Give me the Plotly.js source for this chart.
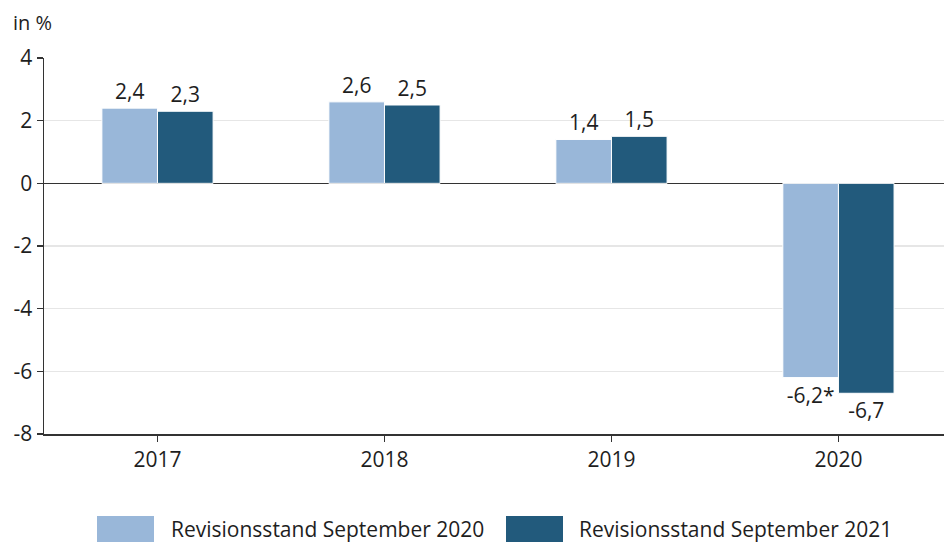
<!DOCTYPE html>
<html>
<head>
<meta charset="utf-8">
<script src="https://cdn.plot.ly/plotly-3.0.1.min.js"></script>
<style>html,body{margin:0;padding:0;overflow:hidden;background:#fff;}</style>
</head>
<body>
<div id="chart" style="width:944px;height:542px;"></div>
<script>
const years = ["2017", "2018", "2019", "2020"];
const seriesNames = ["Revisionsstand September 2020", "Revisionsstand September 2021"];
const values2020 = [2.4, 2.6, 1.4, -6.2];
const values2021 = [2.3, 2.5, 1.5, -6.7];
const labels2020 = ["2,4", "2,6", "1,4", "-6,2*"];
const labels2021 = ["2,3", "2,5", "1,5", "-6,7"];
const yTickVals = [4, 2, 0, -2, -4, -6, -8];
const yTickText = ["4", "2", "0", "-2", "-4", "-6", "-8"];
const colors = ["#99B7D9", "#225A7C"];

const FONT = "'Open Sans', Lato, sans-serif";
const TXT = "#1e1e1e";
const FS = 21;

const traces = [values2020, values2021].map((vals, i) => ({
  type: "bar",
  name: seriesNames[i],
  x: years,
  y: vals,
  text: i === 0 ? labels2020 : labels2021,
  textposition: "outside",
  cliponaxis: false,
  textfont: {family: FONT, size: FS, color: TXT},
  marker: {color: colors[i], line: {color: "#ffffff", width: 1}},
  hoverinfo: "skip"
}));

// custom legend (large swatches)
const legendX = [[97, 169], [506, 577]];
const shapes = [];
const annotations = [{
  xref: "paper", yref: "paper", x: (11 - 44) / 900, y: (434 - 22) / 376,
  xanchor: "left", yanchor: "middle", text: "in %", showarrow: false,
  font: {family: FONT, size: FS - 1, color: TXT}
}];
seriesNames.forEach((n, i) => {
  const [sx, tx] = legendX[i];
  shapes.push({
    type: "rect", xref: "paper", yref: "paper",
    x0: (sx - 44) / 900, x1: (sx + 57 - 44) / 900,
    y0: (434 - 543) / 376, y1: (434 - 516) / 376,
    fillcolor: colors[i], line: {width: 0}
  });
  annotations.push({
    xref: "paper", yref: "paper", x: (tx - 44) / 900, y: (434 - 529) / 376,
    xanchor: "left", yanchor: "middle", text: n, showarrow: false,
    font: {family: FONT, size: FS, color: TXT}
  });
});

const layout = {
  width: 944, height: 542,
  margin: {l: 44, r: 0, t: 58, b: 108},
  paper_bgcolor: "#fff", plot_bgcolor: "#fff",
  font: {family: FONT, size: FS, color: TXT},
  showlegend: false,
  barmode: "group",
  bargap: 0.51,
  bargroupgap: 0,
  xaxis: {
    type: "category",
    range: [-0.5, 3.465],
    showgrid: false,
    showline: true, linecolor: "#333", linewidth: 1.5,
    ticks: "outside", ticklen: 6, tickcolor: "#333", tickwidth: 1.5,
    tickfont: {family: FONT, size: FS, color: TXT},
    zeroline: false, fixedrange: true
  },
  yaxis: {
    range: [-8, 4],
    tickvals: yTickVals, ticktext: yTickText,
    showgrid: true, gridcolor: "#e6e6e6", gridwidth: 1.5,
    showline: true, linecolor: "#333", linewidth: 1.5,
    ticks: "outside", ticklen: 6, tickcolor: "#333", tickwidth: 1.5,
    tickfont: {family: FONT, size: FS, color: TXT},
    zeroline: true, zerolinecolor: "#333", zerolinewidth: 1.5,
    fixedrange: true
  },
  shapes: shapes,
  annotations: annotations
};

Plotly.newPlot("chart", traces, layout, {displayModeBar: false, staticPlot: true});
</script>
</body>
</html>
